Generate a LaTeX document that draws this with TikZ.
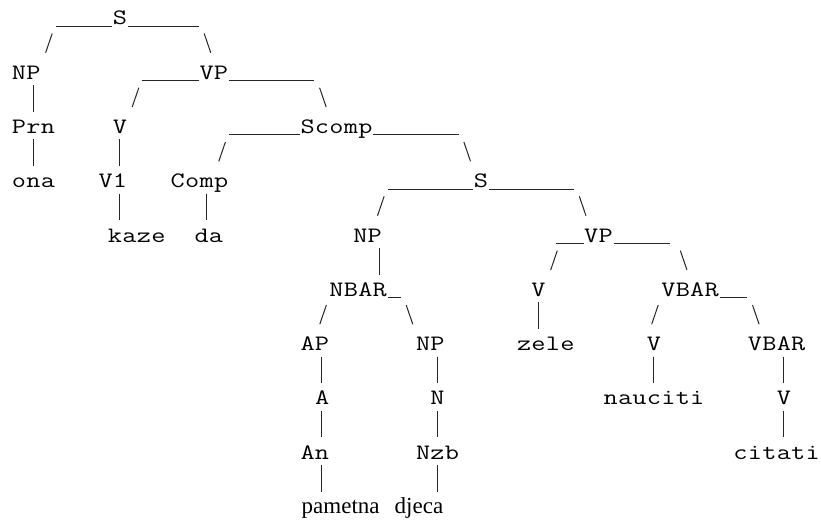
\documentclass[tikz,border=0pt]{standalone}
\usepackage{fontspec}
\newfontfamily\leaffont{Liberation Serif}
\newfontfamily\treefont[FakeStretch=1.25]{Latin Modern Mono}

% every character of a label sits in a cell of fixed pitch
\newcommand\pitchbox[1]{\makebox[14.43pt][c]{#1}}
\def\monostr#1{\monostrloop#1\relax}
\def\monostrloop#1{\ifx\relax#1\else\pitchbox{#1}\expandafter\monostrloop\fi}

% grid: column c starts at 11.65 + 14.43c, row r has its baseline at 24.8 + 27.15r
% optional first argument: horizontal shift of the whole item
\newcommand\treelabel[5][0]{%
  \node[lbl] (#2) at ({11.65+(#3)*14.43+(#1)},{24.8+27.15*(#4)}) {\monostr{#5}};}
\newcommand\stem[3][0]{%
  \draw[branch] ({11.65+(#2+0.5)*14.43+(#1)},{24.8+27.15*(#3)-21.2}) -- ++(0,26.6);}
\newcommand\leftarm[3][0]{%
  \draw[branch] ({11.65+(#2+0.5)*14.43+(#1)-2.1},{24.8+27.15*(#3)+0.8}) -- ++(6.6,-19.3);}
\newcommand\rightarm[3][0]{%
  \draw[branch] ({11.65+(#2+0.5)*14.43+(#1)-2.3},{24.8+27.15*(#3)-18.5}) -- ++(6.6,19.3);}
\newcommand\ledge[4][0]{%
  \draw[branch] ({11.65+(#2)*14.43+(#1)+0.8},{24.8+27.15*(#4)+1.5})
             -- ({11.65+(#3+1)*14.43+(#1)-0.3},{24.8+27.15*(#4)+1.5});}

\begin{document}
\begin{tikzpicture}[x=1pt,y=-1pt,
  lbl/.style={inner sep=0pt,anchor=base west,text=black,
    font=\treefont\fontsize{22}{22}\selectfont},
  leaf/.style={inner sep=0pt,anchor=base west,text=black,
    font=\leaffont\fontsize{23}{23}\selectfont},
  branch/.style={line width=1pt,draw=black!85}]
\fill[white] (0,0) rectangle (821,519);
\useasboundingbox (0,0) rectangle (821,519);

% row 0
\ledge{3}{6}{0}
\treelabel{s-top}{7}{0}{S}
\ledge{8}{12}{0}
% row 1
\leftarm{2}{1}
\rightarm{13}{1}
% row 2
\treelabel{np-subj}{0}{2}{NP}
\ledge{9}{12}{2}
\treelabel{vp-main}{13}{2}{VP}
\ledge{15}{20}{2}
% row 3
\stem{1}{3}
\leftarm{8}{3}
\rightarm{21}{3}
% row 4
\treelabel{prn}{0}{4}{Prn}
\treelabel{v-main}{7}{4}{V}
\ledge{15}{19}{4}
\treelabel{scomp}{20}{4}{Scomp}
\ledge{25}{30}{4}
% row 5
\stem{1}{5}
\stem{7}{5}
\leftarm{14}{5}
\rightarm{31}{5}
% row 6
\treelabel{ona}{0}{6}{ona}
\treelabel{v-one}{6}{6}{V1}
\treelabel{comp}{11}{6}{Comp}
\ledge{26}{31}{6}
\treelabel{s-emb}{32}{6}{S}
\ledge{33}{38}{6}
% row 7
\stem{7}{7}
\stem{13}{7}
\leftarm{25}{7}
\rightarm{39}{7}
% row 8 (set slightly to the left)
\treelabel[-5]{kaze}{7}{8}{kaze}
\treelabel[-5]{da}{13}{8}{da}
\treelabel[-5]{np-emb}{24}{8}{NP}
\ledge[-5]{38}{39}{8}
\treelabel[-5]{vp-emb}{40}{8}{VP}
\ledge[-5]{42}{45}{8}
% row 9
\stem{25}{9}
\leftarm{37}{9}
\rightarm{46}{9}
% row 10
\treelabel{nbar}{22}{10}{NBAR}
\ledge{26}{26}{10}
\treelabel{v-zele}{36}{10}{V}
\treelabel{vbar-a}{45}{10}{VBAR}
\ledge{49}{50}{10}
% row 11
\leftarm{21}{11}
\rightarm{27}{11}
\stem{36}{11}
\leftarm{44}{11}
\rightarm{51}{11}
% row 12
\treelabel{ap}{20}{12}{AP}
\treelabel{np-n}{28}{12}{NP}
\treelabel{zele}{35}{12}{zele}
\treelabel{v-nauc}{44}{12}{V}
\treelabel{vbar-b}{51}{12}{VBAR}
% row 13
\stem{21}{13}
\stem{29}{13}
\stem{44}{13}
\stem{53}{13}
% row 14
\treelabel{a}{21}{14}{A}
\treelabel{n}{29}{14}{N}
\treelabel{nauciti}{41}{14}{nauciti}
\treelabel{v-cit}{53}{14}{V}
% row 15
\stem{21}{15}
\stem{29}{15}
\stem{53}{15}
% row 16
\treelabel{an}{20}{16}{An}
\treelabel{nzb}{28}{16}{Nzb}
\treelabel{citati}{50}{16}{citati}
% row 17
\stem{21}{17}
\stem{29}{17}
% row 18: the two words
\node[leaf] (pametna) at (301.5,513.5) {pametna};
\node[leaf] (djeca) at (394.5,513.5) {djeca};
\end{tikzpicture}
\end{document}
